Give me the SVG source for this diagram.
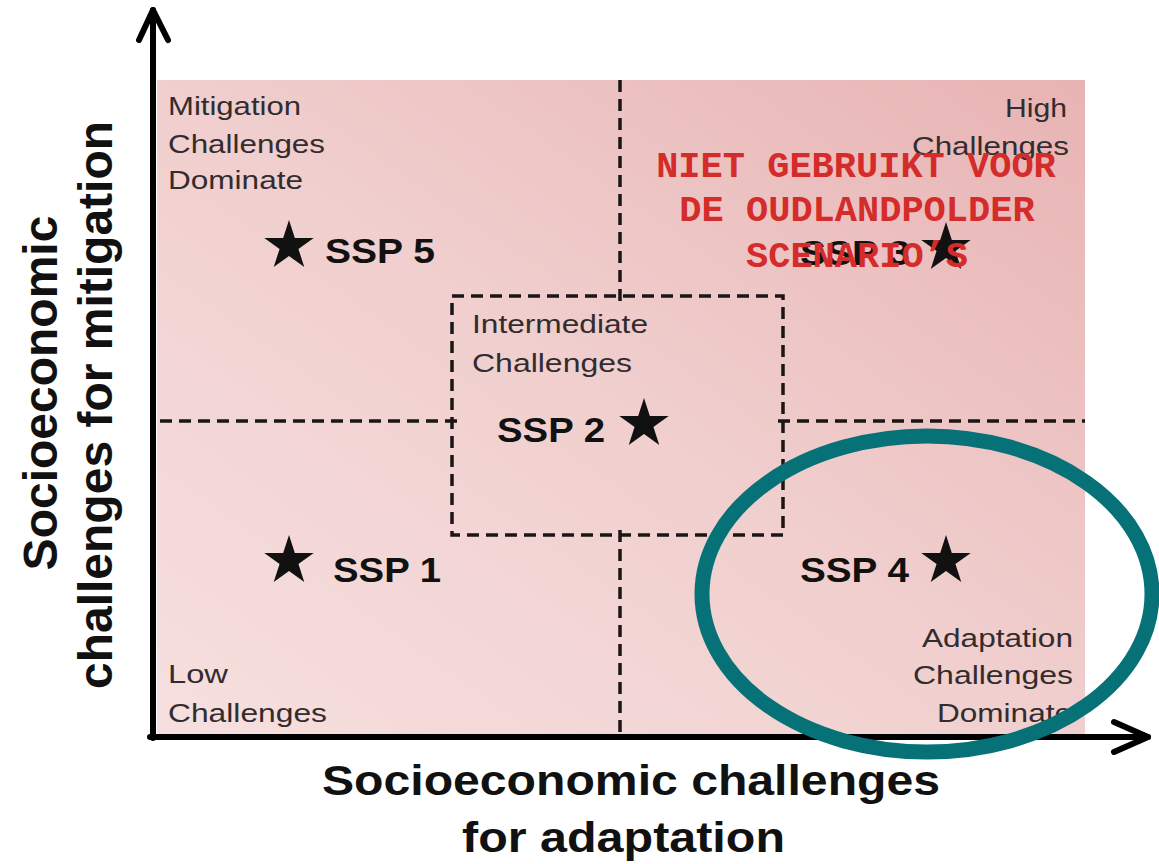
<svg xmlns="http://www.w3.org/2000/svg" xmlns:xlink="http://www.w3.org/1999/xlink" width="1159" height="864" viewBox="0 0 1159 864">
  <defs>
    <linearGradient id="bg" x1="0" y1="1" x2="1" y2="0">
      <stop offset="0" stop-color="#f6e0df"/>
      <stop offset="0.5" stop-color="#f0cfce"/>
      <stop offset="1" stop-color="#e8b3b3"/>
    </linearGradient>
    <path id="star" d="M0,-26 L5.83,-8.04 L24.73,-8.04 L9.44,3.07 L15.28,21.04 L0,9.93 L-15.28,21.04 L-9.44,3.07 L-24.73,-8.04 L-5.83,-8.04 Z"/>
    <style>
      .lbl { font-family: "Liberation Sans", Arial, sans-serif; font-size: 25px; fill: #332c2e; }
      .ssp { font-family: "Liberation Sans", Arial, sans-serif; font-size: 35px; font-weight: bold; fill: #111; }
      .axis-title { font-family: "Liberation Sans", Arial, sans-serif; font-weight: bold; fill: #111; }
      .dash { stroke: #1a1616; stroke-width: 3.5; stroke-dasharray: 12 7; fill: none; }
      .axis { stroke: #000; stroke-width: 6; fill: none; stroke-linecap: round; stroke-linejoin: round; }
      .note { font-family: "Liberation Mono", "Courier New", monospace; font-size: 37px; font-weight: bold; fill: #d42b2b; text-anchor: middle; }
      .star { fill: #111; }
    </style>
  </defs>

  <rect x="0" y="0" width="1159" height="864" fill="#ffffff"/>
  <rect id="plot-area" x="157" y="80" width="928" height="655" fill="url(#bg)"/>

  <g id="connectors">
    <line class="dash" x1="160" y1="421" x2="458" y2="421"/>
    <line class="dash" x1="778" y1="421" x2="1085" y2="421"/>
    <line class="dash" x1="620" y1="80" x2="620" y2="302"/>
    <line class="dash" x1="620" y1="530" x2="620" y2="735"/>
    <rect class="dash" x="452" y="296" width="331" height="239"/>
    <polyline class="axis" points="153,738 153,10"/>
    <polyline class="axis" points="139,40 153,10 168,40"/>
    <polyline class="axis" points="150,737 1148,737"/>
    <polyline class="axis" points="1114,722 1148,737 1114,752"/>
  </g>

  <g id="mitigation-dominate">
    <text class="lbl" x="168" y="115" textLength="133" lengthAdjust="spacingAndGlyphs">Mitigation</text>
    <text class="lbl" x="168" y="153" textLength="157" lengthAdjust="spacingAndGlyphs">Challenges</text>
    <text class="lbl" x="168" y="189" textLength="135" lengthAdjust="spacingAndGlyphs">Dominate</text>
  </g>
  <g id="high-challenges">
    <text class="lbl" x="1005" y="117" textLength="62" lengthAdjust="spacingAndGlyphs">High</text>
    <text class="lbl" x="912" y="155" textLength="157" lengthAdjust="spacingAndGlyphs">Challenges</text>
  </g>
  <g id="intermediate-challenges">
    <text class="lbl" x="472" y="333" textLength="176" lengthAdjust="spacingAndGlyphs">Intermediate</text>
    <text class="lbl" x="472" y="372" textLength="160" lengthAdjust="spacingAndGlyphs">Challenges</text>
  </g>
  <g id="low-challenges">
    <text class="lbl" x="168" y="683" textLength="60" lengthAdjust="spacingAndGlyphs">Low</text>
    <text class="lbl" x="168" y="722" textLength="159" lengthAdjust="spacingAndGlyphs">Challenges</text>
  </g>
  <g id="adaptation-dominate">
    <text class="lbl" x="922" y="647" textLength="151" lengthAdjust="spacingAndGlyphs">Adaptation</text>
    <text class="lbl" x="913" y="684" textLength="160" lengthAdjust="spacingAndGlyphs">Challenges</text>
    <text class="lbl" x="937" y="722" textLength="135" lengthAdjust="spacingAndGlyphs">Dominate</text>
  </g>

  <g id="ssp5">
    <use href="#star" class="star" x="289" y="246"/>
    <text class="ssp" x="325" y="263" textLength="110" lengthAdjust="spacingAndGlyphs">SSP 5</text>
  </g>
  <g id="ssp3">
    <text class="ssp" x="800" y="265" textLength="110" lengthAdjust="spacingAndGlyphs">SSP 3</text>
    <use href="#star" class="star" x="946" y="248"/>
  </g>
  <g id="ssp2">
    <text class="ssp" x="497" y="442" textLength="108" lengthAdjust="spacingAndGlyphs">SSP 2</text>
    <use href="#star" class="star" x="644" y="424"/>
  </g>
  <g id="ssp1">
    <use href="#star" class="star" x="289" y="561"/>
    <text class="ssp" x="333" y="582" textLength="108" lengthAdjust="spacingAndGlyphs">SSP 1</text>
  </g>
  <g id="ssp4">
    <text class="ssp" x="800" y="582" textLength="109" lengthAdjust="spacingAndGlyphs">SSP 4</text>
    <use href="#star" class="star" x="946" y="561"/>
  </g>

  <g id="y-axis-title">
    <text class="axis-title" font-size="48" text-anchor="middle" transform="translate(57,393) rotate(-90)">Socioeconomic</text>
    <text class="axis-title" font-size="48" text-anchor="middle" transform="translate(112,405) rotate(-90)">challenges for mitigation</text>
  </g>
  <g id="x-axis-title">
    <text class="axis-title" font-size="42" x="322" y="795" textLength="618" lengthAdjust="spacingAndGlyphs">Socioeconomic challenges</text>
    <text class="axis-title" font-size="42" x="462" y="852" textLength="323" lengthAdjust="spacingAndGlyphs">for adaptation</text>
  </g>

  <g id="overlay-note">
    <text class="note" x="856" y="177">NIET GEBRUIKT VOOR</text>
    <text class="note" x="857" y="221">DE OUDLANDPOLDER</text>
    <text class="note" x="857" y="267">SCENARIO’S</text>
  </g>

  <g id="highlight-ellipse">
    <ellipse cx="927" cy="594" rx="225" ry="158" fill="none" stroke="#067278" stroke-width="15"/>
  </g>
</svg>
